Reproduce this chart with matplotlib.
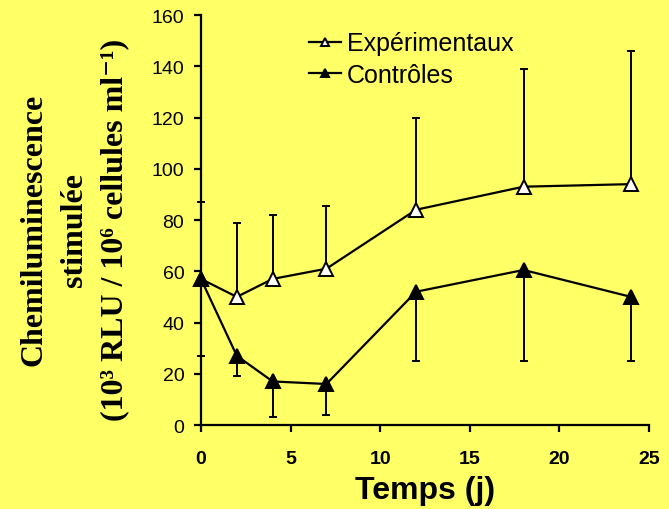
import matplotlib.pyplot as plt
import numpy as np

days = [0, 2, 4, 7, 12, 18, 24]

exp_mean = [57, 50, 57, 61, 84, 93, 94]
exp_upper = [87, 79, 82, 85.5, 120, 139, 146]

ctl_mean = [57, 27, 17, 16, 52, 60.5, 50]
ctl_lower = [27, 19, 3, 4, 25, 25, 25]

bg = '#FFFF66'

fig = plt.figure(figsize=(6.69, 5.10), dpi=100, facecolor=bg)
ax = fig.add_axes([0.3004, 0.1647, 0.6697, 0.8039])
ax.set_facecolor(bg)

exp_err = [np.zeros(len(days)), np.array(exp_upper) - np.array(exp_mean)]
ctl_err = [np.array(ctl_mean) - np.array(ctl_lower), np.zeros(len(days))]

# error bars (one-sided)
ax.errorbar(days, exp_mean, yerr=exp_err, fmt='none', ecolor='black',
            elinewidth=1.4, capsize=3, capthick=1.4, clip_on=False, zorder=2)
ax.errorbar(days, ctl_mean, yerr=ctl_err, fmt='none', ecolor='black',
            elinewidth=1.4, capsize=3, capthick=1.4, clip_on=False, zorder=2)

# lines + markers
ax.plot(days, exp_mean, color='black', lw=1.6, marker='^', ms=9.5,
        mfc='white', mec='black', mew=1.4, label='Expérimentaux',
        clip_on=False, zorder=3)
ax.plot(days, ctl_mean, color='black', lw=1.6, marker='^', ms=9.5,
        mfc='black', mec='black', mew=1.4, label='Contrôles',
        clip_on=False, zorder=3)

ax.set_xlim(0, 25)
ax.set_ylim(0, 160)
ax.set_xticks(np.arange(0, 26, 5))
ax.set_yticks(np.arange(0, 161, 20))
for s in ['top', 'right']:
    ax.spines[s].set_visible(False)
for s in ['left', 'bottom']:
    ax.spines[s].set_linewidth(1.6)
ax.tick_params(direction='out', length=5, width=1.6)
ax.tick_params(axis='x', pad=13)
ax.tick_params(axis='y', pad=7)
for t in ax.get_xticklabels():
    t.set_fontfamily('Liberation Sans')
    t.set_fontweight('bold')
    t.set_fontsize(14)
for t in ax.get_yticklabels():
    t.set_fontfamily('Liberation Sans')
    t.set_fontsize(14)

ax.set_xlabel('Temps (j)', fontfamily='Liberation Sans', fontweight='bold',
              fontsize=23, labelpad=6)

fig.text(0.111, 0.549, 'Chemiluminescence\nstimulée\n(10³ RLU / 10⁶ cellules ml⁻¹)',
         rotation=90, ha='center', va='center', multialignment='center',
         family=['Liberation Serif', 'DejaVu Serif'], fontweight='bold',
         fontsize=23, linespacing=1.5)

leg = ax.legend(loc='upper left', bbox_to_anchor=(0.19, 1.015), frameon=False,
                prop={'family': 'Liberation Sans', 'size': 18},
                handlelength=1.3, handletextpad=0.24, labelspacing=0.3,
                markerscale=0.65)

fig.savefig('out.png', dpi=100, facecolor=bg)
